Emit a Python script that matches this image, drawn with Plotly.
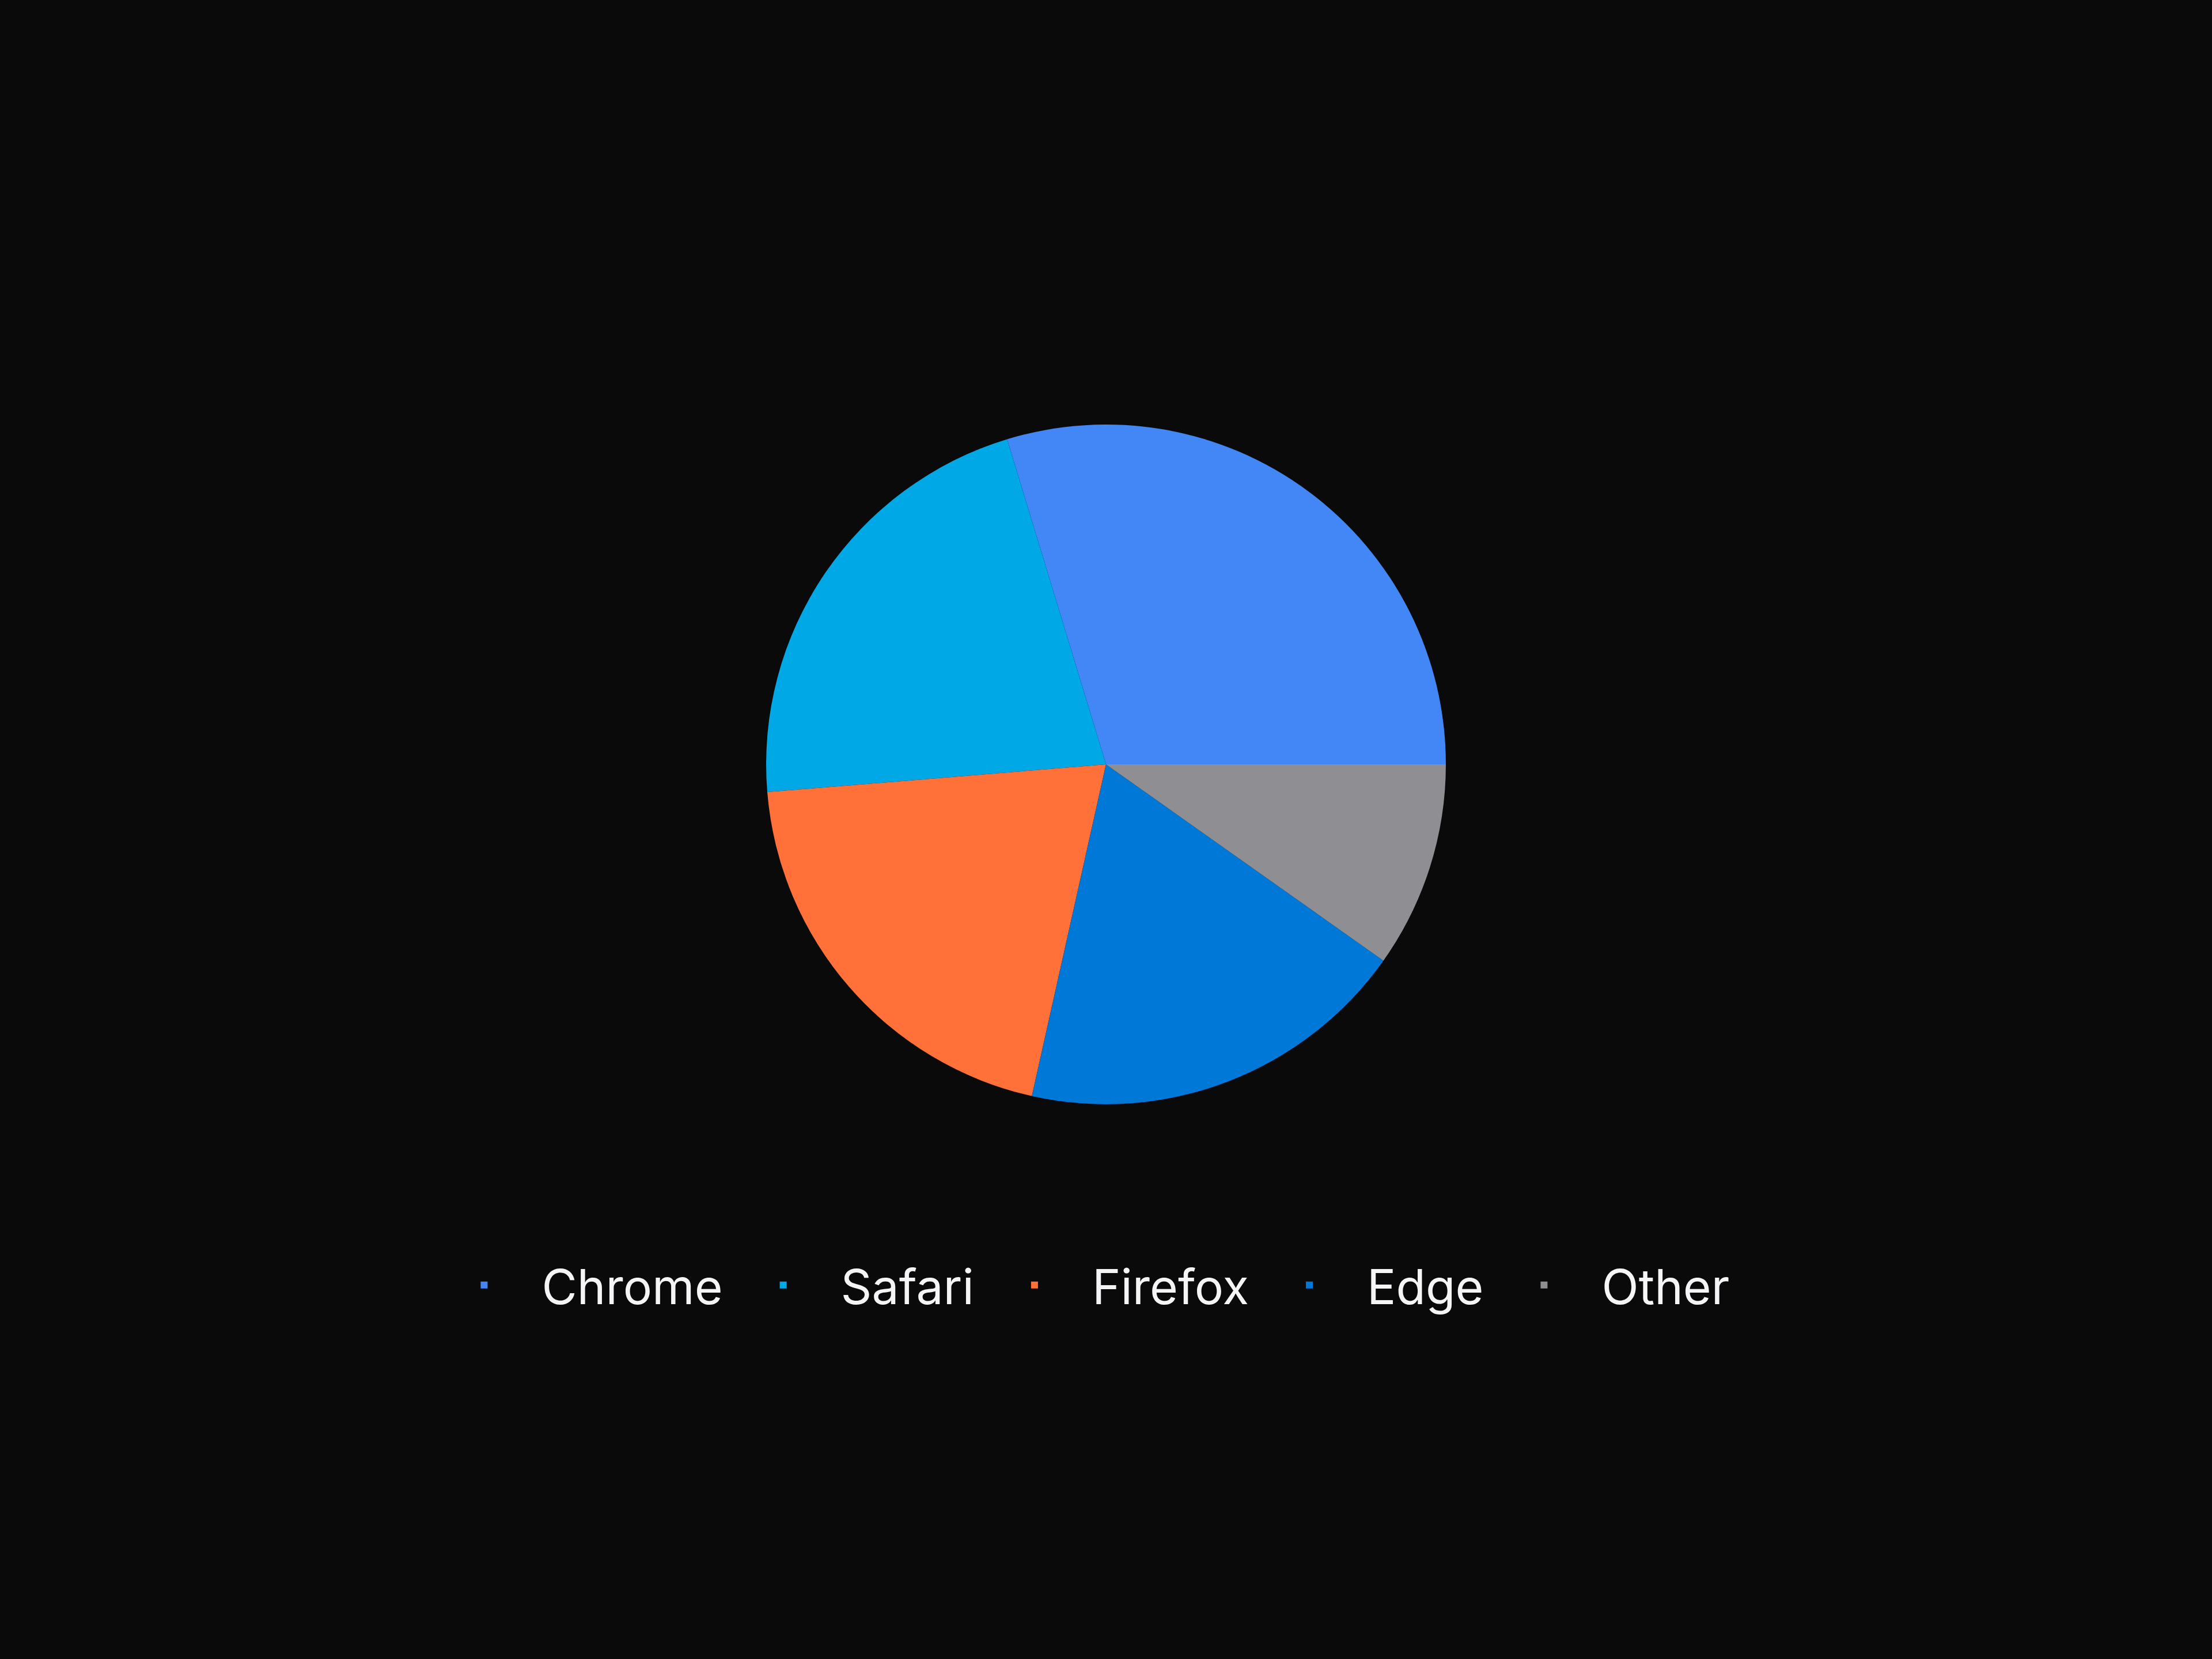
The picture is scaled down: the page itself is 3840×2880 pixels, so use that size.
import plotly.graph_objects as go

# Data (browser share, %)
browsers = ["Chrome", "Safari", "Firefox", "Edge", "Other"]
shares = [29.7, 21.6, 20.2, 18.7, 9.8]
colors = ["#4287F5", "#00A8E6", "#FF7139", "#0078D7", "#8E8E93"]

BG = "#0A0A0A"
W, H = 3840, 2880

# first slice ends at 3 o'clock, the rest run counter-clockwise
rotation = 90 - 360 * shares[0] / sum(shares)

fig = go.Figure(
    go.Pie(
        labels=browsers,
        values=shares,
        marker=dict(colors=colors, line=dict(width=0)),
        sort=False,
        direction="counterclockwise",
        rotation=rotation,
        textinfo="none",
        hoverinfo="label+percent",
        domain=dict(x=[0, 1], y=[0.3344, 0.7441]),
    )
)

fig.update_layout(
    width=W,
    height=H,
    paper_bgcolor=BG,
    plot_bgcolor=BG,
    margin=dict(l=0, r=0, t=0, b=0),
    font=dict(family="Inter, 'Noto Sans', sans-serif", color="#F5F5F7", size=84),
    showlegend=True,
    legend=dict(
        orientation="h",
        x=0.488,
        xanchor="center",
        y=0.2253,
        yanchor="middle",
        font=dict(size=84, color="#F5F5F7"),
        itemwidth=190,
        bgcolor="rgba(0,0,0,0)",
    ),
)

fig.write_html(
    "out.html",
    config={"displayModeBar": False},
    post_script="document.body.style.margin='0';document.body.style.background='%s';" % BG,
)
